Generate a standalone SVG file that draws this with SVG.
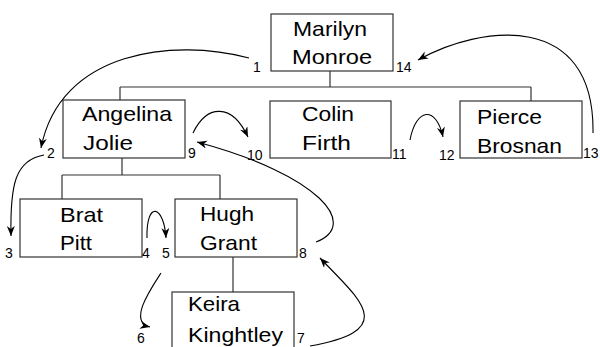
<svg xmlns="http://www.w3.org/2000/svg" width="600" height="347" viewBox="0 0 600 347">
<defs>
<marker id="ah" markerWidth="11" markerHeight="9" refX="10" refY="4" orient="auto" markerUnits="userSpaceOnUse">
<path d="M0,0 L10,4 L0,8 L3,4 Z" fill="#000"/>
</marker>
<style>
.box{fill:#fff;stroke:#333;stroke-width:1.2}
.tree{fill:none;stroke:#333;stroke-width:1.2}
.nm{font-family:"Liberation Sans",Arial,sans-serif;font-size:21px;fill:#000}
.num{font-family:"Liberation Sans",Arial,sans-serif;font-size:14px;fill:#000}
.arc{fill:none;stroke:#000;stroke-width:1.1;marker-end:url(#ah)}
</style>
</defs>
<rect width="600" height="347" fill="#fff"/>
<g id="tree-lines">
<path class="tree" d="M330,71 V87 M120,87 H531 M120,87 V100 M531,87 V101"/>
<path class="tree" d="M122,158 V175 M62,175 H220 M62,175 V199 M220,175 V199 M233,257 V292"/>
</g>
<g id="marilyn">
<rect class="box" x="271" y="14" width="122" height="57"/>
<text class="nm" x="293" y="36" textLength="74" lengthAdjust="spacingAndGlyphs">Marilyn</text>
<text class="nm" x="292" y="64" textLength="80" lengthAdjust="spacingAndGlyphs">Monroe</text>
</g>
<g id="angelina">
<rect class="box" x="63" y="100" width="122" height="58"/>
<text class="nm" x="82" y="121" textLength="90" lengthAdjust="spacingAndGlyphs">Angelina</text>
<text class="nm" x="83" y="150" textLength="50" lengthAdjust="spacingAndGlyphs">Jolie</text>
</g>
<g id="colin">
<rect class="box" x="270" y="101" width="121" height="57"/>
<text class="nm" x="302" y="121" textLength="52" lengthAdjust="spacingAndGlyphs">Colin</text>
<text class="nm" x="302" y="150" textLength="49" lengthAdjust="spacingAndGlyphs">Firth</text>
</g>
<g id="pierce">
<rect class="box" x="460" y="101" width="122" height="57"/>
<text class="nm" x="477" y="124" textLength="65" lengthAdjust="spacingAndGlyphs">Pierce</text>
<text class="nm" x="477" y="153" textLength="85" lengthAdjust="spacingAndGlyphs">Brosnan</text>
</g>
<g id="brat">
<rect class="box" x="20" y="199" width="122" height="58"/>
<text class="nm" x="60" y="222" textLength="43" lengthAdjust="spacingAndGlyphs">Brat</text>
<text class="nm" x="60" y="250" textLength="32" lengthAdjust="spacingAndGlyphs">Pitt</text>
</g>
<g id="hugh">
<rect class="box" x="175" y="199" width="122" height="58"/>
<text class="nm" x="200" y="221" textLength="54" lengthAdjust="spacingAndGlyphs">Hugh</text>
<text class="nm" x="200" y="250" textLength="57" lengthAdjust="spacingAndGlyphs">Grant</text>
</g>
<g id="keira">
<rect class="box" x="172" y="292" width="122" height="70"/>
<text class="nm" x="188" y="311" textLength="52" lengthAdjust="spacingAndGlyphs">Keira</text>
<text class="nm" x="188" y="342" textLength="95" lengthAdjust="spacingAndGlyphs">Kinghtley</text>
</g>
<g id="numbers">
<text class="num" x="253" y="72">1</text>
<text class="num" x="396" y="72">14</text>
<text class="num" x="47" y="158">2</text>
<text class="num" x="188" y="158">9</text>
<text class="num" x="247" y="160">10</text>
<text class="num" x="392" y="159">11</text>
<text class="num" x="439" y="160">12</text>
<text class="num" x="583" y="158">13</text>
<text class="num" x="5" y="258">3</text>
<text class="num" x="142" y="258">4</text>
<text class="num" x="162" y="258">5</text>
<text class="num" x="299" y="258">8</text>
<text class="num" x="137" y="343">6</text>
<text class="num" x="297" y="343">7</text>
</g>
<g id="connectors">
<path class="arc" d="M249,58 C175,38 60,50 41,148"/>
<path class="arc" d="M44,155 C15,160 10,185 11,236"/>
<path class="arc" d="M147,238 C146,200 164,205 166,238"/>
<path class="arc" d="M161,273 C150,290 128,322 150,327"/>
<path class="arc" d="M310,346 C400,330 360,300 320,258"/>
<path class="arc" d="M316,242 C360,225 320,175 197,142"/>
<path class="arc" d="M193,133 C207,104 232,103 248,137"/>
<path class="arc" d="M410,140 C416,108 436,105 443,137"/>
<path class="arc" d="M593,133 C595,10 480,25 418,60"/>
</g>
</svg>
